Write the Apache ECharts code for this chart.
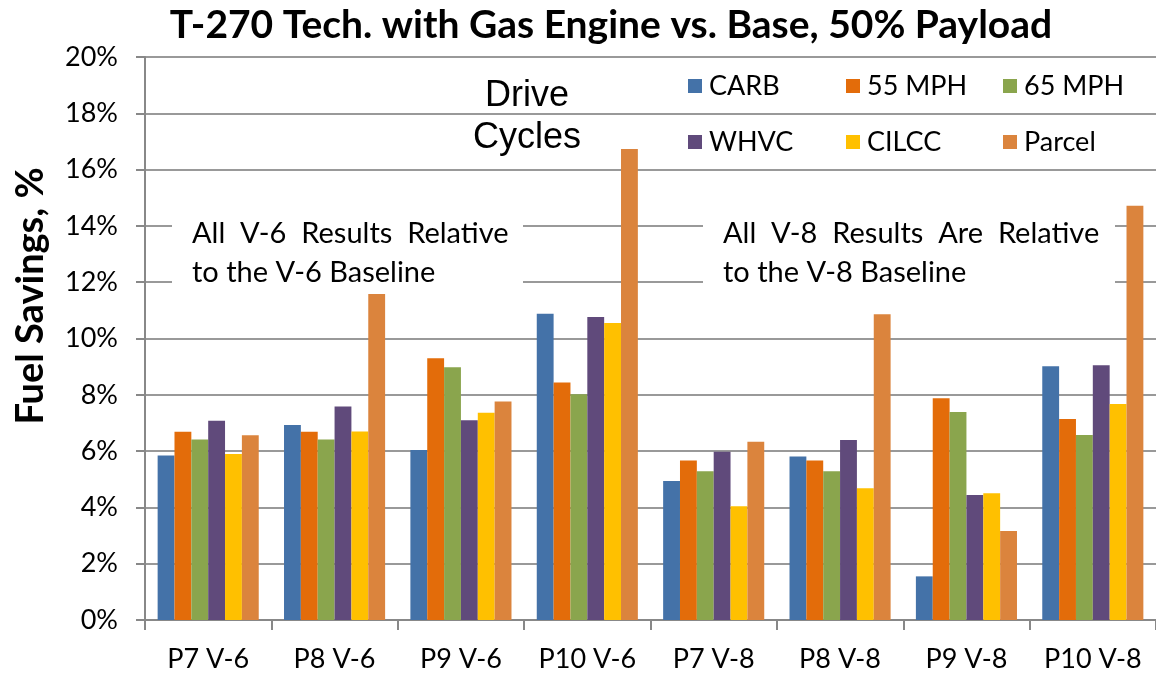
<!DOCTYPE html>
<html>
<head>
<meta charset="utf-8">
<script src="https://cdn.jsdelivr.net/npm/echarts@6/dist/echarts.min.js"></script>
<style>
  html, body { margin: 0; padding: 0; background: #fff; }
  #chart { width: 1156px; height: 674px; }
</style>
</head>
<body>
<div id="chart"></div>
<script>
  const CATEGORIES = ["P7 V-6", "P8 V-6", "P9 V-6", "P10 V-6", "P7 V-8", "P8 V-8", "P9 V-8", "P10 V-8"];
  const CARB    = [5.84, 6.93, 6.04, 10.88, 4.94, 5.81, 1.55, 9.01];
  const MPH55   = [6.69, 6.69, 9.30, 8.44, 5.67, 5.67, 7.88, 7.14];
  const MPH65   = [6.41, 6.41, 8.98, 8.02, 5.28, 5.28, 7.39, 6.57];
  const WHVC    = [7.08, 7.58, 7.10, 10.76, 5.98, 6.39, 4.44, 9.05];
  const CILCC   = [5.90, 6.70, 7.36, 10.55, 4.04, 4.68, 4.50, 7.67];
  const PARCEL  = [6.56, 11.58, 7.76, 16.73, 6.33, 10.86, 3.16, 14.72];
  const Y_TICKS = [0, 20, 2];

  const FONT = "Lato";
  const SERIES = [
    { name: "CARB", data: CARB, color: "#4472a8" },
    { name: "55 MPH", data: MPH55, color: "#e36c0a" },
    { name: "65 MPH", data: MPH65, color: "#8aa54d" },
    { name: "WHVC", data: WHVC, color: "#604a7b" },
    { name: "CILCC", data: CILCC, color: "#ffc000" },
    { name: "Parcel", data: PARCEL, color: "#db843d" }
  ];

  function legendCol(names, left) {
    return {
      data: names,
      orient: "vertical",
      left: left,
      top: 67,
      itemWidth: 14,
      itemHeight: 14,
      itemGap: 28,
      icon: "rect",
      textStyle: { fontFamily: FONT, fontSize: 27, color: "#000", lineHeight: 28, padding: [0, 0, 0, 2] }
    };
  }

  var chart = echarts.init(document.getElementById("chart"), null, { renderer: "canvas" });

  var option = {
    animation: false,
    title: {
      text: "T-270 Tech. with Gas Engine vs. Base, 50% Payload",
      left: 606,
      textAlign: "center",
      top: 1,
      textStyle: { fontFamily: FONT, fontWeight: "bold", fontSize: 39, color: "#000" }
    },
    legend: [
      legendCol(["CARB", "WHVC"], 683),
      legendCol(["55 MPH", "CILCC"], 841),
      legendCol(["65 MPH", "Parcel"], 998)
    ],
    grid: { left: 145, top: 57, width: 1020, bottom: 54 },
    xAxis: {
      type: "category",
      data: CATEGORIES,
      axisLine: { lineStyle: { color: "#888", width: 2 } },
      axisTick: { show: true, length: 10, lineStyle: { color: "#888", width: 2 } },
      axisLabel: { interval: 0, fontFamily: FONT, fontSize: 27, color: "#000", margin: 26 }
    },
    yAxis: {
      type: "value",
      min: Y_TICKS[0],
      max: Y_TICKS[1],
      interval: Y_TICKS[2],
      axisLine: { show: true, lineStyle: { color: "#888", width: 2 } },
      axisTick: { show: true, length: 9, lineStyle: { color: "#888", width: 2 } },
      axisLabel: { formatter: "{value}%", fontFamily: FONT, fontSize: 27, color: "#000", margin: 27 },
      splitLine: { show: true, lineStyle: { color: "#999", width: 2 } }
    },
    series: SERIES.map(s => ({
      name: s.name,
      type: "bar",
      data: s.data,
      barGap: "0%",
      barCategoryGap: "20%",
      itemStyle: { color: s.color },
      z: 2
    })),
    graphic: [
      // white boxes behind the two notes
      { type: "rect", left: 172, top: 203, shape: { width: 351, height: 90 }, style: { fill: "#fff" }, z: 1 },
      { type: "rect", left: 703, top: 203, shape: { width: 412, height: 90 }, style: { fill: "#fff" }, z: 1 },
      { type: "text", left: 192, top: 214, z: 10,
        style: { text: "All  V-6  Results  Relative\nto the V-6 Baseline", fill: "#000", font: "29px " + FONT, lineHeight: 39 } },
      { type: "text", left: 723, top: 214, z: 10,
        style: { text: "All  V-8  Results  Are  Relative\nto the V-8 Baseline", fill: "#000", font: "29px " + FONT, lineHeight: 39 } },
      { type: "text", x: 527, y: 75, z: 10,
        style: { text: "Drive\nCycles", fill: "#000", font: "36px 'Liberation Sans'", lineHeight: 42, align: "center", verticalAlign: "top" } },
      { type: "text", x: 31, y: 296, rotation: Math.PI / 2, z: 10,
        style: { text: "Fuel Savings, %", fill: "#000", font: "bold 38px " + FONT, align: "center", verticalAlign: "middle" } }
    ]
  };

  chart.setOption(option);
</script>
</body>
</html>
